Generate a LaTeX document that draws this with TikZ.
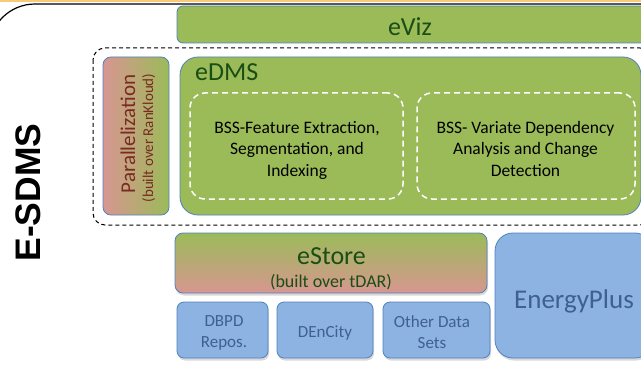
\documentclass[tikz,border=0pt]{standalone}
\usepackage{fontspec}
\setmainfont{Carlito}
\newfontfamily\titlefont{Liberation Sans}
\usetikzlibrary{shadows}
\definecolor{leafgreen}{RGB}{155,187,89}
\definecolor{rosepink}{RGB}{215,150,145}
\definecolor{edgeblue}{RGB}{79,129,189}
\definecolor{skyblue}{RGB}{141,179,226}
\definecolor{deepgreen}{RGB}{25,78,20}
\definecolor{inkblue}{RGB}{62,96,146}
\definecolor{brickred}{RGB}{122,42,36}
\definecolor{bandorange}{RGB}{247,203,122}

\begin{document}
\begin{tikzpicture}[x=1pt,y=-1pt,
    box/.style={draw=edgeblue,line width=0.8pt,inner sep=0pt,outer sep=0pt},
    lifted/.style={drop shadow={shadow xshift=1pt,shadow yshift=-2.5pt,opacity=0.3}},
    stage/.style={font=\fontsize{26}{30}\selectfont,text=deepgreen,inner sep=0pt},
    loopbox/.style={draw=white,line width=1.5pt,dash pattern=on 6pt off 4pt,rounded corners=15pt,inner sep=0pt},
    looptext/.style={font=\fontsize{17.5}{21.2}\selectfont,align=center,inner sep=0pt},
    datatext/.style={font=\fontsize{17}{21}\selectfont,text=inkblue,align=center,inner sep=0pt}]
  \useasboundingbox (0,0) rectangle (641,369);
  \clip (0,0) rectangle (641,369);
  \fill[bandorange] (0,0) rectangle (641,2);
  \draw[line width=1.2pt,rounded corners=46pt] (-11,90) |- (660,4);

  % visualisation layer
  \node[box,fill=leafgreen,rounded corners=6pt,minimum width=470pt,minimum height=37pt] (eviz) at (412,24.5) {};
  \node[stage,anchor=base] (evizlbl) at (410,35.7) {eViz};

  % data management core
  \draw[line width=1pt,dash pattern=on 4pt off 3pt,rounded corners=12pt] (93,48) rectangle (652,225);
  \node[box,left color=rosepink,right color=leafgreen,rounded corners=8pt,minimum width=66pt,minimum height=158pt] (para) at (136,136) {};
  \node[rotate=90,anchor=base,font=\fontsize{21}{24}\selectfont,text=brickred,inner sep=0pt] (paralbl) at (135,134) {Parallelization};
  \node[rotate=90,anchor=base,font=\fontsize{15}{18}\selectfont,text=brickred,inner sep=0pt] (paranote) at (153,138) {(built over RanKloud)};

  \node[box,fill=leafgreen,rounded corners=18pt,minimum width=461pt,minimum height=158pt] (edms) at (410.5,136) {};
  \node[stage,anchor=base west] (edmslbl) at (195,81) {eDMS};
  \node[loopbox,minimum width=213pt,minimum height=106pt] (feat) at (296.5,146) {};
  \node[looptext,anchor=north] (feattxt) at (297,121.4) {BSS-Feature Extraction,\\Segmentation, and\\Indexing};
  \node[loopbox,minimum width=218pt,minimum height=106pt] (vari) at (526,146) {};
  \node[looptext,anchor=north] (varitxt) at (525.5,121.4) {BSS- Variate Dependency\\Analysis and Change\\Detection};

  % storage layer
  \node[box,lifted,top color=leafgreen,bottom color=rosepink,rounded corners=8pt,minimum width=312pt,minimum height=60pt] (estore) at (331,263) {};
  \node[stage,anchor=base] (estorelbl) at (331.5,264) {eStore};
  \node[anchor=base,font=\fontsize{18}{21}\selectfont,text=deepgreen,inner sep=0pt] (estorenote) at (331,287) {(built over tDAR)};

  \node[box,lifted,fill=skyblue,rounded corners=18pt,minimum width=158pt,minimum height=125pt] (eplus) at (574,295.5) {};
  \node[anchor=base,font=\fontsize{27}{30}\selectfont,text=inkblue,inner sep=0pt] (epluslbl) at (574,308) {EnergyPlus};

  \node[box,lifted,fill=skyblue,rounded corners=7pt,minimum width=91pt,minimum height=56pt] (dbpd) at (222.5,330) {};
  \node[datatext,anchor=north] (dbpdtxt) at (224,315.7) {DBPD\\Repos.};
  \node[box,lifted,fill=skyblue,rounded corners=7pt,minimum width=96pt,minimum height=56pt] (dencity) at (325,330) {};
  \node[datatext,anchor=base] (dencitytxt) at (325,337.7) {DEnCity};
  \node[box,lifted,fill=skyblue,rounded corners=7pt,minimum width=107pt,minimum height=56pt] (other) at (436.5,330) {};
  \node[datatext,anchor=north] (othertxt) at (432,315.7) {Other Data\\Sets};

  \node[rotate=90,anchor=base,font=\titlefont\bfseries\fontsize{35.5}{40}\selectfont,inner sep=0pt] (sdms) at (40,192.5) {E-SDMS};
\end{tikzpicture}
\end{document}
